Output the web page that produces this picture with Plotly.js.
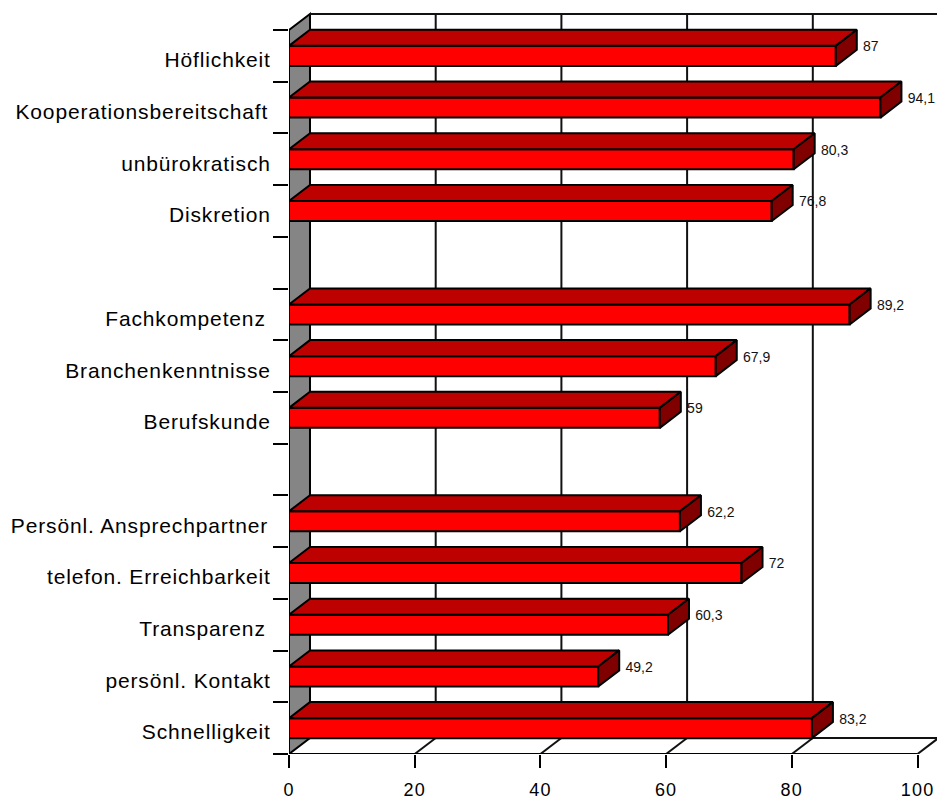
<!DOCTYPE html>
<html>
<head>
<meta charset="utf-8">
<script src="https://cdn.plot.ly/plotly-3.0.1.min.js"></script>
<style>
html,body{margin:0;padding:0;background:#fff}
#chart{width:937px;height:799px}
#chart .ytick text{letter-spacing:0.85px}
#chart .xtick text{letter-spacing:1.2px}
</style>
</head>
<body>
<div id="chart"></div>
<script>
// Rows from top to bottom; empty rows separate the three groups.
const categories = ['Höflichkeit', 'Kooperationsbereitschaft\u200A', 'unbürokratisch', 'Diskretion', '',
  'Fachkompetenz\u2009', 'Branchenkenntnisse', 'Berufskunde', '',
  'Persönl. Ansprechpartner\u200A', 'telefon. Erreichbarkeit', 'Transparenz\u2009', 'persönl. Kontakt', 'Schnelligkeit'];
const values = [87, 94.1, 80.3, 76.8, null, 89.2, 67.9, 59, null, 62.2, 72, 60.3, 49.2, 83.2];
const valueTicks = [0, 20, 40, 60, 80, 100];

// Extrusion of the pseudo-3D box, in axis units.
const depthX = 3.34;
const depthY = 0.31;
const barWidth = 0.387;
const xMax = 103.1;
const yHeadroom = 0.387;
const rowCount = categories.length;
const rowCentres = categories.map((_, i) => i + 0.5);
const rowEdges = Array.from({length: rowCount + 1}, (_, i) => i);

const ink = '#000';
const wallInk = '#111';

// Join polygons with null gaps so one trace can fill them all.
function polygons(build) {
  const xs = [], ys = [];
  values.forEach((v, i) => {
    if (v === null) return;
    build(v, rowCentres[i]).forEach(p => { xs.push(p[0]); ys.push(p[1]); });
    xs.push(null); ys.push(null);
  });
  return {xs, ys};
}
const topFaces = polygons((v, y) => {
  const t = y - barWidth / 2;
  return [[0, t], [depthX, t - depthY], [v + depthX, t - depthY], [v, t], [0, t]];
});
const sideFaces = polygons((v, y) => {
  const t = y - barWidth / 2, b = y + barWidth / 2;
  return [[v, t], [v + depthX, t - depthY], [v + depthX, b - depthY], [v, b], [v, t]];
});
const face = (poly, color) => ({
  type: 'scatter', mode: 'lines', x: poly.xs, y: poly.ys, fill: 'toself', fillcolor: color,
  line: {color: ink, width: 2}, hoverinfo: 'skip', cliponaxis: false
});

const shown = values.map((v, i) => v === null ? null : i).filter(i => i !== null);
const traces = [
  {
    type: 'bar', orientation: 'h', x: values, y: rowCentres, width: barWidth,
    marker: {color: '#FF0000', line: {color: ink, width: 2}}, hoverinfo: 'skip'
  },
  face(topFaces, '#BD0000'),
  face(sideFaces, '#800000'),
  // Front-plane axis lines, kept as a trace so they are not clipped at the plot edge
  {
    type: 'scatter', mode: 'lines', cliponaxis: false, hoverinfo: 'skip',
    x: [0, 0, valueTicks[valueTicks.length - 1]], y: [0, rowCount, rowCount],
    line: {color: ink, width: 2}
  },
  {
    type: 'scatter', mode: 'text', cliponaxis: false, hoverinfo: 'skip',
    x: shown.map(i => values[i] + depthX + 1.0),
    y: shown.map(i => rowCentres[i] - 0.155),
    text: shown.map(i => String(values[i]).replace('.', ',')),
    textposition: 'middle right',
    textfont: {family: 'Liberation Sans, Arial, sans-serif', size: 14, color: '#111'}
  }
];

const line = (x0, y0, x1, y1, color, width) => ({
  type: 'line', layer: 'below', xref: 'x', yref: 'y', x0, y0, x1, y1,
  line: {color, width}
});
const shapes = [
  // Left wall
  {
    type: 'path', layer: 'below', xref: 'x', yref: 'y',
    path: `M0,0 L${depthX},${-depthY} L${depthX},${rowCount - depthY} L0,${rowCount} Z`,
    fillcolor: '#858585', line: {color: ink, width: 2}
  },
  // Back wall edges and floor edges
  line(depthX, -depthY, xMax, -depthY, wallInk, 2),
  line(depthX, rowCount - depthY, xMax, rowCount - depthY, wallInk, 2),
  line(100, rowCount, 100 + depthX, rowCount - depthY, wallInk, 2),
  // Gridlines on the back wall, continuing across the floor
  ...valueTicks.slice(1, -1).flatMap(t => [
    line(t + depthX, -depthY, t + depthX, rowCount - depthY, wallInk, 2),
    line(t, rowCount, t + depthX, rowCount - depthY, wallInk, 2)
  ])
];

const yFont = {family: 'Liberation Sans, Arial, sans-serif', size: 21, color: '#000'};
const xFont = {family: 'Liberation Sans, Arial, sans-serif', size: 18, color: '#000'};
const layout = {
  width: 937, height: 799,
  margin: {l: 289, r: 0, t: 10, b: 45, pad: 0},
  paper_bgcolor: '#fff', plot_bgcolor: '#fff',
  showlegend: false, hovermode: false, bargap: 0,
  xaxis: {
    range: [0, xMax], showgrid: false, zeroline: false, showline: false,
    tickmode: 'array', tickvals: valueTicks, ticktext: valueTicks.map(String),
    ticks: 'outside', ticklen: 13, tickwidth: 2, tickcolor: ink,
    ticklabelstandoff: 6, tickfont: xFont
  },
  yaxis: {
    range: [rowCount, -yHeadroom], showgrid: false, zeroline: false, showline: false,
    tickmode: 'array', tickvals: rowCentres, ticktext: categories,
    ticks: 'outside', ticklen: 13, tickwidth: 0, tickcolor: 'rgba(0,0,0,0)',
    ticklabelshift: -4, tickfont: yFont,
    minor: {tickmode: 'array', tickvals: rowEdges, ticks: 'outside', ticklen: 15, tickwidth: 2, tickcolor: ink, showgrid: false}
  },
  shapes
};
Plotly.newPlot('chart', traces, layout, {displayModeBar: false, staticPlot: true});
</script>
</body>
</html>
